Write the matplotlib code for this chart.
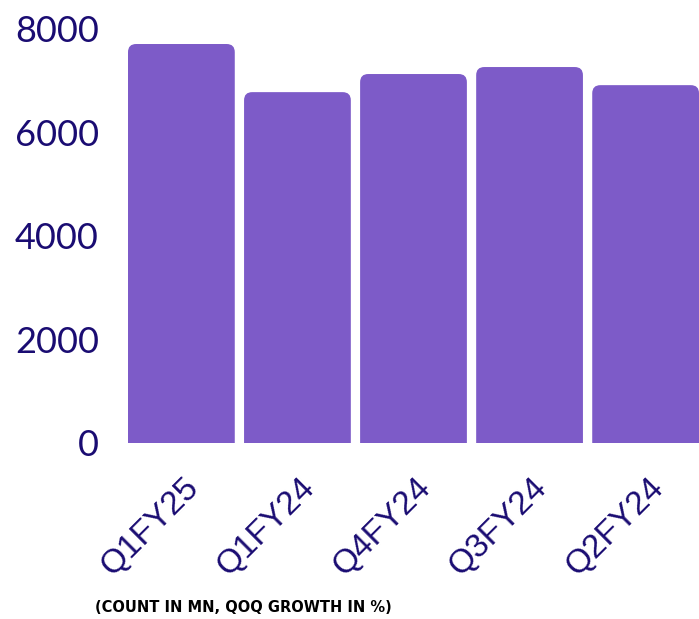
import matplotlib
matplotlib.use('Agg')
import matplotlib.pyplot as plt
import matplotlib.transforms as mtransforms
from matplotlib.patches import FancyBboxPatch

# Data
quarters = ['Q1FY25', 'Q1FY24', 'Q4FY24', 'Q3FY24', 'Q2FY24']
counts = [7710, 6780, 7130, 7265, 6915]
y_ticks = [0, 2000, 4000, 6000, 8000]

BAR = '#7D5BC8'
NAVY = '#1A0C72'

fig = plt.figure(figsize=(6.99, 6.19), dpi=100)
fig.patch.set_facecolor('white')
ax = fig.add_axes([128 / 699, 176 / 619, 1 - 128 / 699, 414 / 619])

bars = ax.bar(range(len(quarters)), counts, width=0.92, color=BAR)

# swap plain bars for ones with rounded top corners
px_x = 116.0
px_y = 414.0 / 8000
for b in bars:
    x, w, h = b.get_x(), b.get_width(), b.get_height()
    rp = FancyBboxPatch((x, -600), w, h + 600,
                        boxstyle="round,pad=0,rounding_size=0.07",
                        mutation_aspect=px_x / px_y,
                        facecolor=BAR, edgecolor='none')
    ax.add_patch(rp)
    b.remove()

ax.set_xlim(-0.46, 4.46)
ax.set_ylim(0, 8000)
ax.set_yticks(y_ticks)
ax.set_yticklabels([str(t) for t in y_ticks], fontsize=26, color=NAVY,
                   family='Lato', fontweight='normal')
ax.tick_params(axis='y', length=0, pad=21)
ax.set_xticks(range(len(quarters)))
ax.set_xticklabels(quarters, rotation=45, ha='right', va='center',
                   rotation_mode='anchor', fontsize=24, color=NAVY,
                   family='Liberation Sans')
ax.tick_params(axis='x', length=0, pad=0)
offset = mtransforms.ScaledTranslation(0.13, -0.40, fig.dpi_scale_trans)
for lbl in ax.get_xticklabels():
    lbl.set_transform(lbl.get_transform() + offset)

for s in ax.spines.values():
    s.set_visible(False)
ax.set_facecolor('white')

fig.text(95 / 699, 1 - 607 / 619, '(COUNT IN MN, QOQ GROWTH IN %)',
         fontsize=10.5, fontweight='heavy', color='black', ha='left', va='center',
         family='DejaVu Sans')

fig.savefig('out.png', dpi=100, facecolor='white')
